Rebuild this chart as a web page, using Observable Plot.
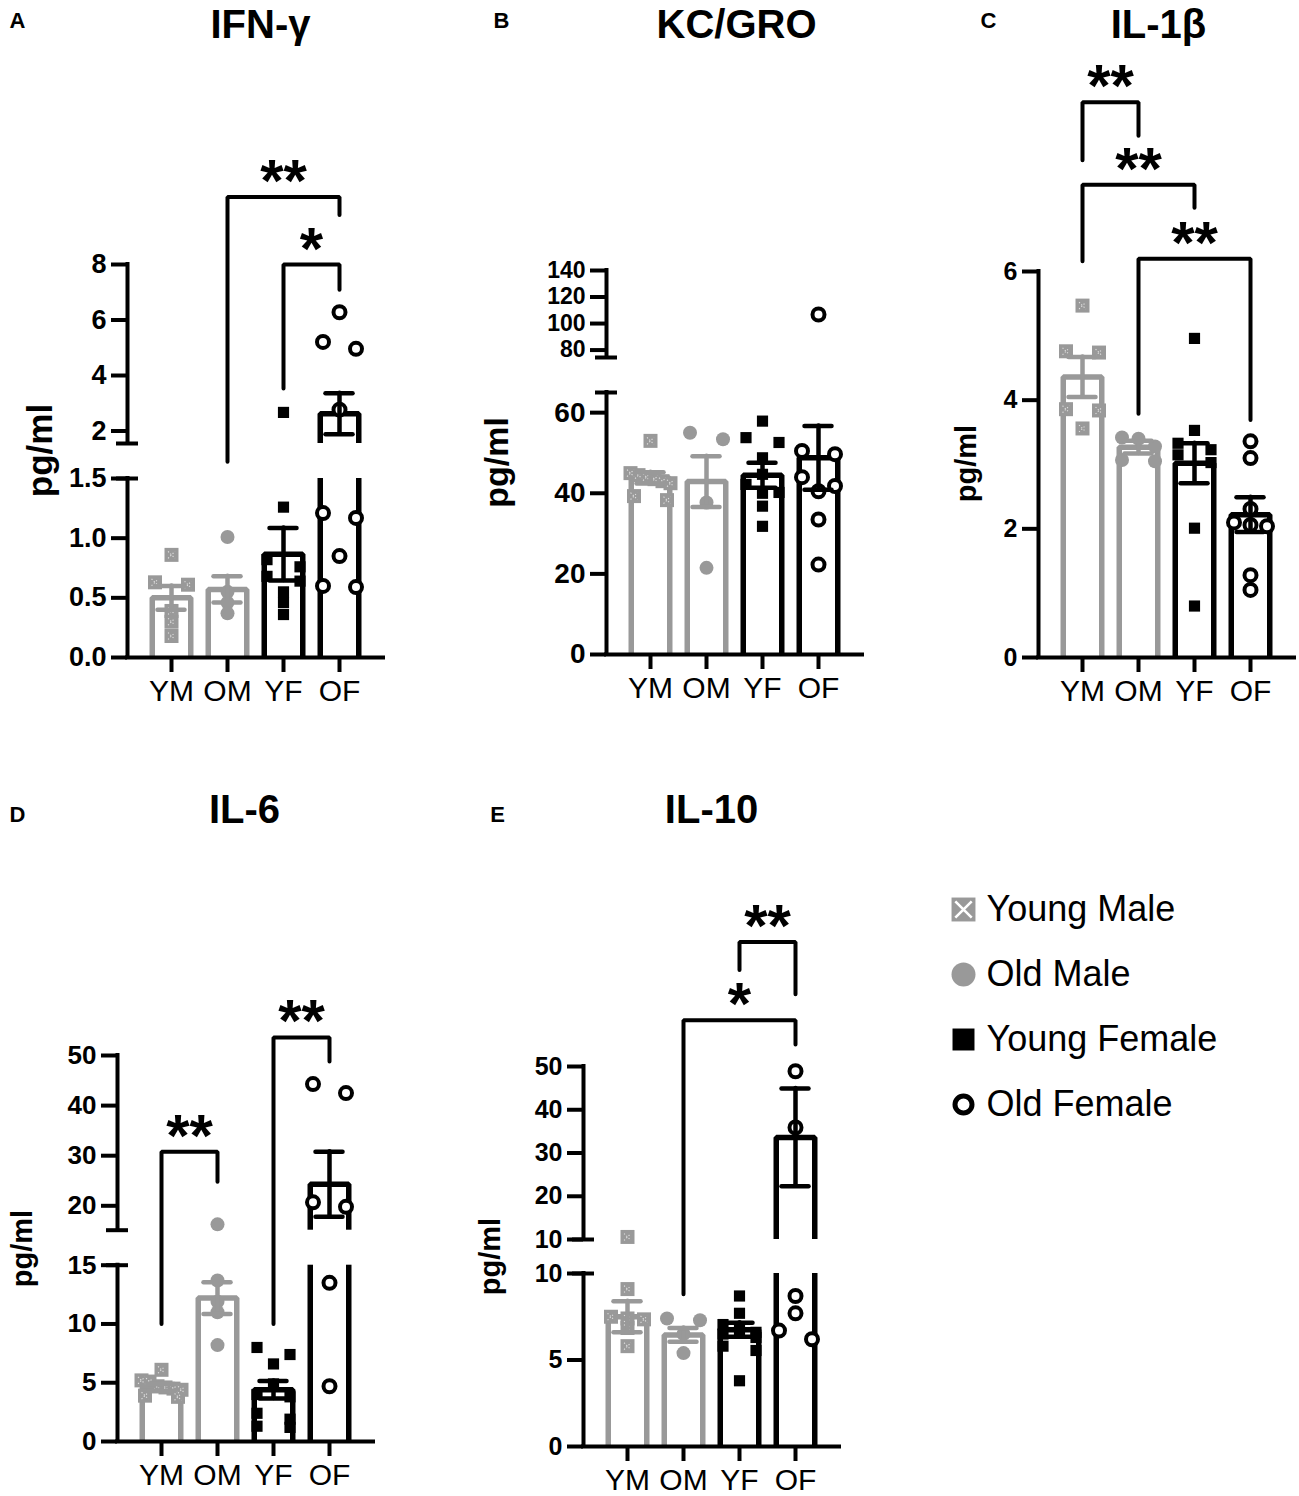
<!DOCTYPE html>
<html><head><meta charset="utf-8">
<script src="https://cdn.jsdelivr.net/npm/d3@7"></script>
<script src="https://cdn.jsdelivr.net/npm/@observablehq/plot@0.6"></script>
<style>
body{margin:0;background:#fff;}
#fig{position:relative;width:1299px;height:1496px;overflow:hidden;background:#fff;}
#fig > .cell{position:absolute;}
</style></head><body><div id="fig"></div>
<script>
// ---------- data ----------
const groups = ["YM", "OM", "YF", "OF"];
const groupNames = ["Young Male", "Old Male", "Young Female", "Old Female"];

// IFN-γ
const ifngMean = [0.50, 0.57, 0.865, 2.62];
const ifngSem = [0.10, 0.11, 0.22, 0.74];
const ifngYM = [0.86, 0.63, 0.61, 0.39, 0.30, 0.18];
const ifngOM = [1.01, 0.55, 0.46, 0.37];
const ifngYF = [2.67, 1.26, 0.82, 0.76, 0.68, 0.64, 0.55, 0.46, 0.36];
const ifngOF = [6.28, 5.21, 4.96, 2.77, 1.21, 1.17, 0.85, 0.60, 0.59];
const ifngTicks = [0, 0.5, 1, 1.5, 2, 4, 6, 8];
const ifngTickLabels = ["0.0", "0.5", "1.0", "1.5", "2", "4", "6", "8"];
const ifngSig = [
  {from: "OM", to: "OF", label: "**", top: 10.43, endFrom: 1.524, endTo: 9.78},
  {from: "YF", to: "OF", label: "*", top: 8.0, endFrom: 3.53, endTo: 7.09}
];

// KC/GRO
const kcMean = [43.8, 42.9, 44.5, 48.8];
const kcSem = [1.4, 6.3, 3.1, 7.9];
const kcYM = [53.0, 45.0, 44.5, 44.0, 43.5, 43.0, 42.5, 39.3, 38.3];
const kcOM = [55.0, 53.4, 37.7, 21.5];
const kcYF = [57.9, 53.8, 52.6, 48.8, 44.7, 42.2, 40.2, 40.0, 36.8, 31.8];
const kcOF = [106.8, 50.5, 49.7, 44.0, 41.8, 40.5, 33.5, 22.3];
const kcTicks = [0, 20, 40, 60, 80, 100, 120, 140];
const kcTickLabels = ["0", "20", "40", "60", "80", "100", "120", "140"];
const kcSig = [];

// IL-1β
const il1bMean = [4.36, 3.27, 3.02, 2.22];
const il1bSem = [0.31, 0.10, 0.31, 0.27];
const il1bYM = [5.47, 4.76, 4.74, 3.86, 3.84, 3.56];
const il1bOM = [3.42, 3.40, 3.28, 3.07, 3.05];
const il1bYF = [4.96, 3.53, 3.33, 3.23, 3.15, 3.03, 2.01, 0.80];
const il1bOF = [3.36, 3.10, 2.31, 2.10, 2.06, 2.04, 1.28, 1.05];
const il1bTicks = [0, 2, 4, 6];
const il1bTickLabels = ["0", "2", "4", "6"];
const il1bSig = [
  {from: "YM", to: "OM", label: "**", top: 8.63, endFrom: 7.73, endTo: 8.11},
  {from: "YM", to: "YF", label: "**", top: 7.35, endFrom: 6.16, endTo: 6.99},
  {from: "OM", to: "OF", label: "**", top: 6.2, endFrom: 3.79, endTo: 3.69}
];

// IL-6
const il6Mean = [4.6, 12.2, 4.4, 24.3];
const il6Sem = [0.3, 1.35, 0.75, 6.5];
const il6YM = [6.1, 5.2, 5.1, 4.7, 4.6, 4.5, 4.4, 3.9, 3.8];
const il6OM = [16.3, 13.7, 11.9, 11.0, 8.2];
const il6YF = [8.0, 7.4, 6.6, 4.9, 4.0, 3.8, 2.4, 1.9, 1.3, 1.2];
const il6OF = [44.3, 42.5, 20.7, 19.8, 13.5, 4.7];
const il6Ticks = [0, 5, 10, 15, 20, 30, 40, 50];
const il6TickLabels = ["0", "5", "10", "15", "20", "30", "40", "50"];
const il6Sig = [
  {from: "YM", to: "OM", label: "**", top: 30.8, endFrom: 10.0, endTo: 24.8},
  {from: "YF", to: "OF", label: "**", top: 53.6, endFrom: 10.0, endTo: 48.8}
];

// IL-10
const il10Mean = [7.5, 6.45, 6.75, 33.6];
const il10Sem = [0.9, 0.4, 0.4, 11.3];
const il10YM = [10.6, 9.1, 7.5, 7.4, 7.35, 6.85, 5.8];
const il10OM = [7.4, 7.3, 6.5, 5.4];
const il10YF = [8.7, 7.7, 7.05, 6.7, 6.6, 6.5, 6.3, 5.8, 5.55, 3.8];
const il10OF = [48.9, 35.9, 8.7, 7.7, 6.7, 6.2];
const il10Ticks = [0, 5, 10, 10.01, 20, 30, 40, 50];
const il10TickLabels = ["0", "5", "10", "10", "20", "30", "40", "50"];
const il10Sig = [
  {from: "OM", to: "OF", label: "*", top: 60.7, endFrom: 8.8, endTo: 55.1},
  {from: "YF", to: "OF", label: "**", top: 78.8, endFrom: 72.3, endTo: 66.7}
];

// ---------- style / layout ----------
const FONT = '"Liberation Sans", Arial, Helvetica, sans-serif';
const GRAY = "#999999";
const groupColor = [GRAY, GRAY, "black", "black"];
const SYM = [
  {symbol: "square", r: 7.9, fill: GRAY, stroke: "none", sw: 0, size: 14},
  {symbol: "circle", r: 7, fill: GRAY, stroke: "none", sw: 0, size: 14},
  {symbol: "square", r: 6.3, fill: "black", stroke: "none", sw: 0, size: 11},
  {symbol: "circle", r: 6, fill: "white", stroke: "black", sw: 4, size: 16}
];
const STEP = 56, AXLEN = 256, FIRST = 44;
const XMIN = -FIRST / STEP, XMAX = (AXLEN - FIRST) / STEP;
const BAR_HALF = 19.25 / STEP, CAP_HALF = 13.5 / STEP;
const ROW_SLOT = 16.5, ROW_MAXW = 40;
const STAR_SIZE = 60, STAR_DY = 4;

const panels = [
  {letter: "A", title: "IFN-γ", cell: {left: 0, top: 0, w: 475, h: 745}, axisX: 127, y0: 657,
   domain: [0, 1.5, 1.55, 8], range: [657, 478, 443, 264], breaks: [1.5, 1.55], segs: [[0, 1.5], [1.55, 8]],
   ticks: ifngTicks, labels: ifngTickLabels, tickFont: 27, tickFontUpper: 27, mean: ifngMean, sem: ifngSem,
   points: [ifngYM, ifngOM, ifngYF, ifngOF], sig: ifngSig,
   titleAt: [260, 37], letterAt: [17, 27], ylabAt: [40, 450], ylabSize: 35},
  {letter: "B", title: "KC/GRO", cell: {left: 475, top: 0, w: 465, h: 745}, axisX: 606, y0: 654,
   domain: [0, 65, 74.4, 140], range: [654, 392, 357, 270], breaks: [65, 74.4], segs: [[0, 65], [74.4, 140]],
   ticks: kcTicks, labels: kcTickLabels, tickFont: 28, tickFontUpper: 23, mean: kcMean, sem: kcSem,
   points: [kcYM, kcOM, kcYF, kcOF], sig: kcSig,
   titleAt: [736, 37], letterAt: [501, 27], ylabAt: [497, 462], ylabSize: 34},
  {letter: "C", title: "IL-1β", cell: {left: 940, top: 0, w: 359, h: 745}, axisX: 1038, y0: 657,
   domain: [0, 6], range: [657, 271], breaks: null, segs: [[0, 6]],
   ticks: il1bTicks, labels: il1bTickLabels, tickFont: 25, tickFontUpper: 25, mean: il1bMean, sem: il1bSem,
   points: [il1bYM, il1bOM, il1bYF, il1bOF], sig: il1bSig,
   titleAt: [1158, 37], letterAt: [988, 27], ylabAt: [966, 463], ylabSize: 29},
  {letter: "D", title: "IL-6", cell: {left: 0, top: 745, w: 475, h: 751}, axisX: 117, y0: 1441,
   domain: [0, 15, 15.13, 50], range: [1441, 1264.7, 1229.7, 1055], breaks: [15, 15.13], segs: [[0, 15], [15.13, 50]],
   ticks: il6Ticks, labels: il6TickLabels, tickFont: 26, tickFontUpper: 26, mean: il6Mean, sem: il6Sem,
   points: [il6YM, il6OM, il6YF, il6OF], sig: il6Sig,
   titleAt: [244, 822], letterAt: [17, 821], ylabAt: [22, 1248], ylabSize: 29},
  {letter: "E", title: "IL-10", cell: {left: 475, top: 745, w: 440, h: 751}, axisX: 583, y0: 1446,
   domain: [0, 10, 10.01, 50], range: [1446, 1273, 1239, 1066], breaks: [10, 10.01], segs: [[0, 10], [10.01, 50]],
   ticks: il10Ticks, labels: il10TickLabels, tickFont: 25, tickFontUpper: 25, mean: il10Mean, sem: il10Sem,
   points: [il10YM, il10OM, il10YF, il10OF], sig: il10Sig,
   titleAt: [711, 822], letterAt: [497, 821], ylabAt: [490, 1256], ylabSize: 29}
];

// simple row-based scatter spreading (like GraphPad column scatter)
function swarm(values, ypx, size) {
  const order = values.map((_, i) => i).sort((a, b) => values[b] - values[a]);
  const off = values.map(() => 0);
  const rows = [];
  for (const i of order) {
    const py = ypx(values[i]);
    const last = rows[rows.length - 1];
    if (last && Math.abs(py - last.y) < size * 0.75) last.items.push(i);
    else rows.push({y: py, items: [i]});
  }
  for (const {items} of rows) {
    const m = items.length;
    if (m === 1) continue;
    const gap = m === 2 ? 2 * ROW_SLOT : Math.min(ROW_SLOT, ROW_MAXW / (m - 1));
    items.forEach((i, j) => { off[i] = (j - (m - 1) / 2) * gap; });
  }
  return off;
}

function makePanel(p) {
  const c = p.cell;
  const ml = p.axisX - c.left;
  const mr = c.left + c.w - (p.axisX + AXLEN);
  const mb = c.top + c.h - p.y0;
  const yRange = p.range.map(v => v - c.top);
  const ypx = d3.scaleLinear().domain(p.domain).range(yRange);
  const gi = g => groups.indexOf(g);
  const fmt = v => p.labels[p.ticks.indexOf(v)];
  const colorOf = d => groupColor[d.i];
  const split = p.breaks ? p.breaks[0] : Infinity;

  const barPath = p.mean.flatMap((m, i) => [
    {i, x: i - BAR_HALF, y: 0}, {i, x: i - BAR_HALF, y: m},
    {i, x: i + BAR_HALF, y: m}, {i, x: i + BAR_HALF, y: 0}
  ]);
  const err = p.mean.map((m, i) => ({i, lo: m - p.sem[i], hi: m + p.sem[i]}));
  const dots = p.points.flatMap((vals, i) => {
    const off = swarm(vals, ypx, SYM[i].size);
    return vals.map((v, k) => ({i, v, x: i + off[k] / STEP}));
  });
  const brPath = p.sig.flatMap((b, k) => [
    {k, x: gi(b.from), y: b.endFrom}, {k, x: gi(b.from), y: b.top},
    {k, x: gi(b.to), y: b.top}, {k, x: gi(b.to), y: b.endTo}
  ]);

  const marks = [
    Plot.line(barPath, {x: "x", y: "y", z: "i", stroke: colorOf, strokeWidth: 5.5, strokeLinejoin: "miter", strokeLinecap: "butt"})
  ];
  if (p.breaks) marks.push(Plot.rect([p.breaks], {x1: () => XMIN, x2: () => XMAX, y1: d => d[0], y2: d => d[1], fill: "white"}));
  SYM.forEach((s, i) => {
    marks.push(Plot.dot(dots.filter(d => d.i === i), {x: "x", y: "v", symbol: s.symbol, r: s.r, fill: s.fill, stroke: s.stroke, strokeWidth: s.sw}));
  });
  marks.push(Plot.dot(dots.filter(d => d.i === 0), {x: "x", y: "v", symbol: "times", r: 3.2, stroke: "white", strokeOpacity: 0.7, strokeWidth: 1.1, strokeDasharray: "1.2 2"}));
  marks.push(
    Plot.ruleX(err, {x: "i", y1: "lo", y2: "hi", stroke: colorOf, strokeWidth: 4.5, strokeLinecap: "round"}),
    Plot.ruleY(err, {x1: d => d.i - CAP_HALF, x2: d => d.i + CAP_HALF, y: "hi", stroke: colorOf, strokeWidth: 4.5, strokeLinecap: "round"}),
    Plot.ruleY(err, {x1: d => d.i - CAP_HALF, x2: d => d.i + CAP_HALF, y: "lo", stroke: colorOf, strokeWidth: 4.5, strokeLinecap: "round"}),
    Plot.ruleX(p.segs, {x: () => XMIN, y1: d => d[0], y2: d => d[1], stroke: "black", strokeWidth: 4, strokeLinecap: "square"}),
    Plot.ruleY([0], {x1: () => XMIN, x2: () => XMAX, y: d => d, stroke: "black", strokeWidth: 4, strokeLinecap: "square"}),
    Plot.axisY({ticks: p.ticks.filter(t => t <= split), tickFormat: fmt, tickSize: 16, tickPadding: 5, fontSize: p.tickFont, fontWeight: "bold", strokeWidth: 4, strokeLinecap: "butt", label: null}),
    Plot.axisX({ticks: [0, 1, 2, 3], tickFormat: i => groups[i], tickSize: 15, tickPadding: 7, fontSize: 30, strokeWidth: 4, strokeLinecap: "butt", label: null})
  );
  if (p.breaks) {
    marks.push(
      Plot.axisY({ticks: p.ticks.filter(t => t > split), tickFormat: fmt, tickSize: 16, tickPadding: 5, fontSize: p.tickFontUpper, fontWeight: "bold", strokeWidth: 4, strokeLinecap: "butt", label: null}),
      Plot.axisY({ticks: p.breaks, tickFormat: () => "", tickSize: 22, dx: 11, strokeWidth: 4, strokeLinecap: "butt", label: null})
    );
  }
  marks.push(
    Plot.line(brPath, {x: "x", y: "y", z: "k", stroke: "black", strokeWidth: 4, strokeLinejoin: "miter"}),
    Plot.text(p.sig, {x: b => (gi(b.from) + gi(b.to)) / 2, y: "top", text: "label", lineAnchor: "bottom", dy: STAR_DY, fontSize: STAR_SIZE, fontWeight: "bold", fill: "black"}),
    Plot.text([p.title], {text: d => d, frameAnchor: "top-left", dx: p.titleAt[0] - p.axisX, dy: p.titleAt[1] - c.top, textAnchor: "middle", lineAnchor: "bottom", fontSize: 40, fontWeight: "bold", fill: "black"}),
    Plot.text([p.letter], {text: d => d, frameAnchor: "top-left", dx: p.letterAt[0] - p.axisX, dy: p.letterAt[1] - c.top, textAnchor: "middle", lineAnchor: "bottom", fontSize: 22, fontWeight: "bold", fill: "black"}),
    Plot.text(["pg/ml"], {text: d => d, frameAnchor: "top-left", dx: p.ylabAt[0] - p.axisX, dy: p.ylabAt[1] - c.top, rotate: -90, textAnchor: "middle", lineAnchor: "middle", fontSize: p.ylabSize, fontWeight: "bold", fill: "black"})
  );

  return Plot.plot({
    width: c.w, height: c.h,
    marginTop: 0, marginLeft: ml, marginRight: mr, marginBottom: mb,
    style: {fontFamily: FONT, background: "white", color: "black", overflow: "visible"},
    x: {type: "linear", domain: [XMIN, XMAX]},
    y: {type: "linear", domain: p.domain, range: yRange},
    color: {type: "identity"},
    marks
  });
}

function makeLegend() {
  const c = {left: 915, top: 745, w: 384, h: 420};
  const rowY = [909, 974, 1039, 1104];
  const symX = 963;
  const rows = groupNames.map((name, i) => ({name, i}));
  return {c, svg: Plot.plot({
    width: c.w, height: c.h, marginLeft: symX - c.left, marginRight: 0, marginTop: 0, marginBottom: 0,
    style: {fontFamily: FONT, background: "white", color: "black"},
    y: {type: "linear", domain: [0, 3], range: [rowY[0] - c.top, rowY[3] - c.top], axis: null},
    marks: [
      Plot.dot(rows.filter(d => d.i === 0), {y: "i", frameAnchor: "left", symbol: "square", r: 13.5, fill: GRAY}),
      Plot.dot(rows.filter(d => d.i === 0), {y: "i", frameAnchor: "left", symbol: "times", r: 7.5, stroke: "white", strokeWidth: 2.6}),
      Plot.dot(rows.filter(d => d.i === 1), {y: "i", frameAnchor: "left", symbol: "circle", r: 12, fill: GRAY}),
      Plot.dot(rows.filter(d => d.i === 2), {y: "i", frameAnchor: "left", symbol: "square", r: 12.4, fill: "black"}),
      Plot.dot(rows.filter(d => d.i === 3), {y: "i", frameAnchor: "left", symbol: "circle", r: 8.5, fill: "white", stroke: "black", strokeWidth: 5}),
      Plot.text(rows, {y: "i", text: "name", frameAnchor: "left", dx: 23, textAnchor: "start", lineAnchor: "middle", fontSize: 36, fill: "black"})
    ]
  })};
}

const fig = document.getElementById("fig");
function place(svg, c) {
  const d = document.createElement("div");
  d.className = "cell";
  d.style.left = c.left + "px"; d.style.top = c.top + "px";
  d.style.width = c.w + "px"; d.style.height = c.h + "px";
  d.appendChild(svg);
  fig.appendChild(d);
}
for (const p of panels) place(makePanel(p), p.cell);
const lg = makeLegend();
place(lg.svg, lg.c);
</script></body></html>
